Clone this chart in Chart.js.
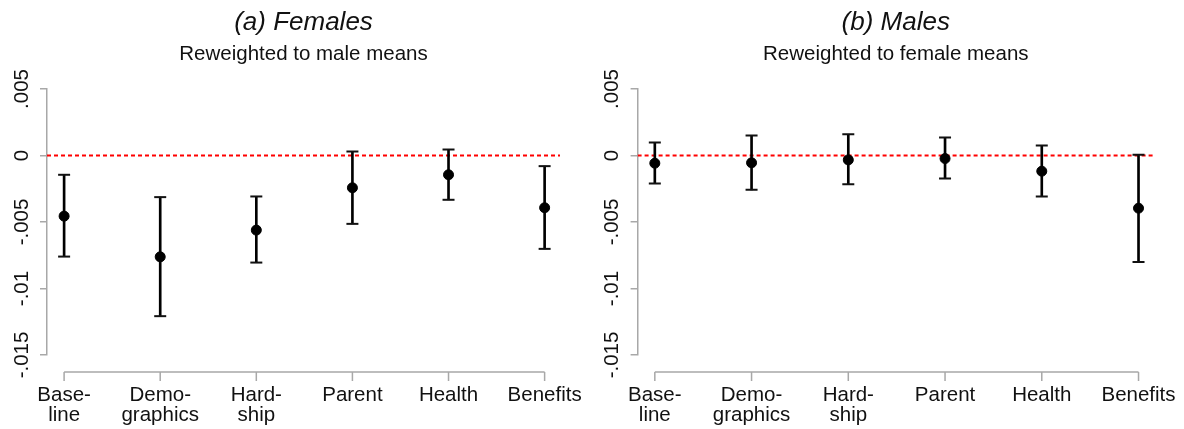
<!DOCTYPE html>
<html>
<head>
<meta charset="utf-8">
<script src="https://cdn.jsdelivr.net/npm/chart.js@4"></script>
<style>
  body { margin: 0; background: #fff; }
  .panel { position: absolute; top: 0; }
</style>
</head>
<body>
<canvas id="females" class="panel" width="592" height="429" style="left:0"></canvas>
<canvas id="males" class="panel" width="592" height="429" style="left:592px"></canvas>
<script>
// Categories along the x axis (multi-line labels)
const categories = [['Base-', 'line'], ['Demo-', 'graphics'], ['Hard-', 'ship'], ['Parent'], ['Health'], ['Benefits']];

// Y axis ticks
const yTickValues = [0.005, 0, -0.005, -0.01, -0.015];
const yTickLabels = ['.005', '0', '-.005', '-.01', '-.015'];

// (a) Females, reweighted to male means
const femaleEst = [-0.00456, -0.00762, -0.00561, -0.00243, -0.00145, -0.00393];
const femaleHi = [-0.00145, -0.00313, -0.00308, 0.0003, 0.00045, -0.0008];
const femaleLo = [-0.0076, -0.01208, -0.00805, -0.00514, -0.00333, -0.00702];

// (b) Males, reweighted to female means
const maleEst = [-0.00058, -0.00055, -0.00033, -0.00023, -0.00118, -0.00396];
const maleHi = [0.00098, 0.0015, 0.0016, 0.00135, 0.00075, 0.00005];
const maleLo = [-0.0021, -0.00258, -0.00216, -0.00173, -0.00308, -0.008];

const FONT = "'Liberation Sans', Arial, sans-serif";
const AXIS_GREY = '#a8a8a8';
const X_MIN = -0.178, X_MAX = 5.16;

// rotated y tick labels and a detached x axis line
const axisExtras = {
    id: 'axisExtras',
    afterDraw(chart, args, opts) {
        const ctx = chart.ctx;
        const ys = chart.scales.y;
        const xs = chart.scales.x;
        ctx.save();
        ctx.fillStyle = '#111';
        ctx.font = '20.5px ' + FONT;
        ctx.textAlign = 'center';
        ctx.textBaseline = 'middle';
        yTickValues.forEach((v, i) => {
            ctx.save();
            ctx.translate(opts.labelX, ys.getPixelForValue(v));
            ctx.rotate(-Math.PI / 2);
            ctx.fillText(yTickLabels[i], 0, 0);
            ctx.restore();
        });
        const yLine = chart.chartArea.bottom + 17;
        ctx.strokeStyle = AXIS_GREY;
        ctx.lineWidth = 1.5;
        ctx.beginPath();
        ctx.moveTo(xs.getPixelForValue(0), yLine);
        ctx.lineTo(xs.getPixelForValue(categories.length - 1), yLine);
        categories.forEach((c, i) => {
            const px = xs.getPixelForValue(i);
            ctx.moveTo(px, yLine);
            ctx.lineTo(px, yLine + 9);
        });
        ctx.stroke();
        ctx.restore();
    }
};

function makePanel(id, title, subtitle, est, lo, hi, axisWidth, labelX, padRight) {
    const idx = est.map((v, i) => i);
    new Chart(document.getElementById(id), {
        type: 'scatter',
        data: {
            datasets: [
                {
                    data: idx.map(i => ({ x: i, y: est[i] })),
                    backgroundColor: '#000',
                    borderColor: '#000',
                    pointRadius: 5,
                    order: 0
                },
                {
                    data: idx.flatMap(i => [{ x: i, y: lo[i] }, { x: i, y: hi[i] }]),
                    pointStyle: 'line',
                    pointRadius: 6,
                    borderColor: '#111',
                    borderWidth: 2,
                    order: 1
                },
                {
                    type: 'bar',
                    data: idx.map(i => ({ x: i, y: [lo[i], hi[i]] })),
                    backgroundColor: '#000',
                    barThickness: 2,
                    order: 2
                },
                {
                    type: 'line',
                    data: [{ x: X_MIN, y: 0 }, { x: X_MAX, y: 0 }],
                    borderColor: '#ff0000',
                    borderWidth: 2,
                    borderDash: [4, 3],
                    pointRadius: 0,
                    order: 3
                }
            ]
        },
        options: {
            responsive: false,
            animation: false,
            events: [],
            layout: { padding: { top: 0, left: 0, right: padRight, bottom: 0 } },
            plugins: {
                legend: { display: false },
                tooltip: { enabled: false },
                title: {
                    display: true, text: title, fullSize: false, color: '#111',
                    font: { family: FONT, size: 26, style: 'italic', weight: 'normal', lineHeight: 1.2 },
                    padding: { top: 7.4, bottom: 3.1 }
                },
                subtitle: {
                    display: true, text: subtitle, fullSize: false, color: '#111',
                    font: { family: FONT, size: 20.5, lineHeight: 1.2 },
                    padding: { top: 0, bottom: 22.7 }
                },
                axisExtras: { labelX: labelX }
            },
            scales: {
                x: {
                    type: 'linear', min: X_MIN, max: X_MAX, offset: false,
                    grid: { display: false, drawTicks: false, offset: false },
                    border: { display: false },
                    afterBuildTicks: s => { s.ticks = categories.map((c, i) => ({ value: i })); },
                    afterFit: s => { s.height = 74; s.paddingLeft = 0; s.paddingRight = 0; },
                    ticks: {
                        autoSkip: false, maxRotation: 0, minRotation: 0, padding: 30, color: '#111',
                        font: { family: FONT, size: 20.5, lineHeight: 1.0 },
                        callback: v => categories[v]
                    }
                },
                y: {
                    min: -0.015, max: 0.005,
                    grid: { drawOnChartArea: false, drawTicks: true, tickLength: 7, color: AXIS_GREY, lineWidth: 1.5 },
                    border: { display: true, color: AXIS_GREY, width: 1.5 },
                    afterBuildTicks: s => { s.ticks = yTickValues.map(v => ({ value: v })); },
                    afterFit: s => { s.width = axisWidth; },
                    ticks: { display: false }
                }
            }
        },
        plugins: [axisExtras]
    });
}

makePanel('females', '(a) Females', 'Reweighted to male means', femaleEst, femaleLo, femaleHi, 47, 22, 32);
makePanel('males', '(b) Males', 'Reweighted to female means', maleEst, maleLo, maleHi, 45.6, 20.3, 30);
</script>
</body>
</html>
